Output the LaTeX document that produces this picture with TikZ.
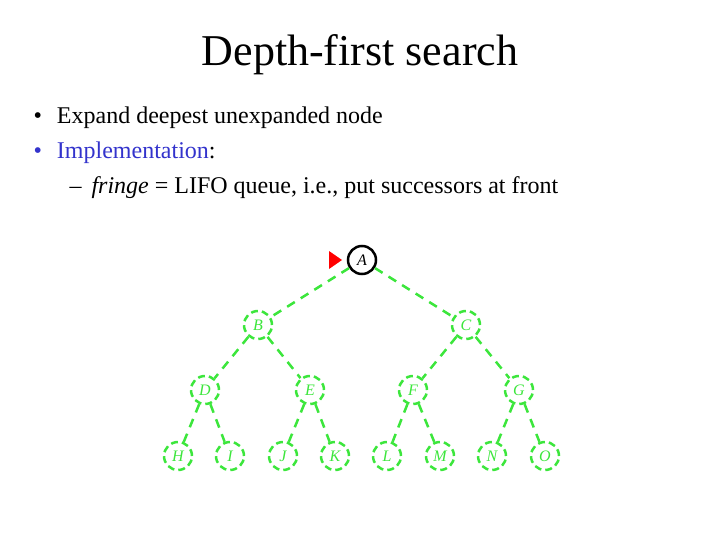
\documentclass[tikz,border=0pt]{standalone}
\usepackage{fontspec}
\setmainfont{Liberation Serif}
\definecolor{tg}{RGB}{60,230,60}
\definecolor{impl}{RGB}{51,51,204}
\begin{document}
\begin{tikzpicture}[x=1pt,y=-1pt,
  tn/.style={circle,draw=tg,dashed,line width=2.5pt,dash pattern=on 7pt off 4pt,minimum size=28pt,inner sep=0pt,text=tg,font=\itshape\fontsize{16}{16}\selectfont},
  te/.style={draw=tg,line width=2.5pt,dash pattern=on 9pt off 7pt},
  txt/.style={anchor=base west,font=\fontsize{24}{27}\selectfont}]
\useasboundingbox (0,0) rectangle (720,540);
\node[font=\fontsize{44}{48}\selectfont] (title) at (360,55) {Depth-first search};
\node[txt] (b1) at (30,124) {•\hspace{15pt}Expand deepest unexpanded node};
\node[txt] (b2) at (30,159) {\textcolor{impl}{•}\hspace{15pt}\textcolor{impl}{Implementation}:};
\node[txt] (b3) at (66,194) {–\hspace{10pt}\textit{fringe} = LIFO queue, i.e., put successors at front};
\node[circle,draw=black,line width=2.5pt,minimum size=28pt,inner sep=0pt,font=\itshape\fontsize{16}{16}\selectfont] (A) at (362,260) {A};
\node[tn] (B) at (258,325) {B};
\node[tn] (C) at (466,325) {C};
\node[tn] (D) at (205,390) {D};
\node[tn] (E) at (310,390) {E};
\node[tn] (F) at (413,390) {F};
\node[tn] (G) at (519,390) {G};
\node[tn] (H) at (178,456) {H};
\node[tn] (I) at (230,456) {I};
\node[tn] (J) at (283,456) {J};
\node[tn] (K) at (335,456) {K};
\node[tn] (L) at (387,456) {L};
\node[tn] (M) at (440,456) {M};
\node[tn] (N) at (492,456) {N};
\node[tn] (O) at (545,456) {O};
\foreach \p/\c in {A/B,A/C,B/D,B/E,C/F,C/G,D/H,D/I,E/J,E/K,F/L,F/M,G/N,G/O}
  \draw[te] (\p) -- (\c);
\fill[red] (329,251) -- (342,260) -- (329,269) -- cycle;
\end{tikzpicture}
\end{document}
